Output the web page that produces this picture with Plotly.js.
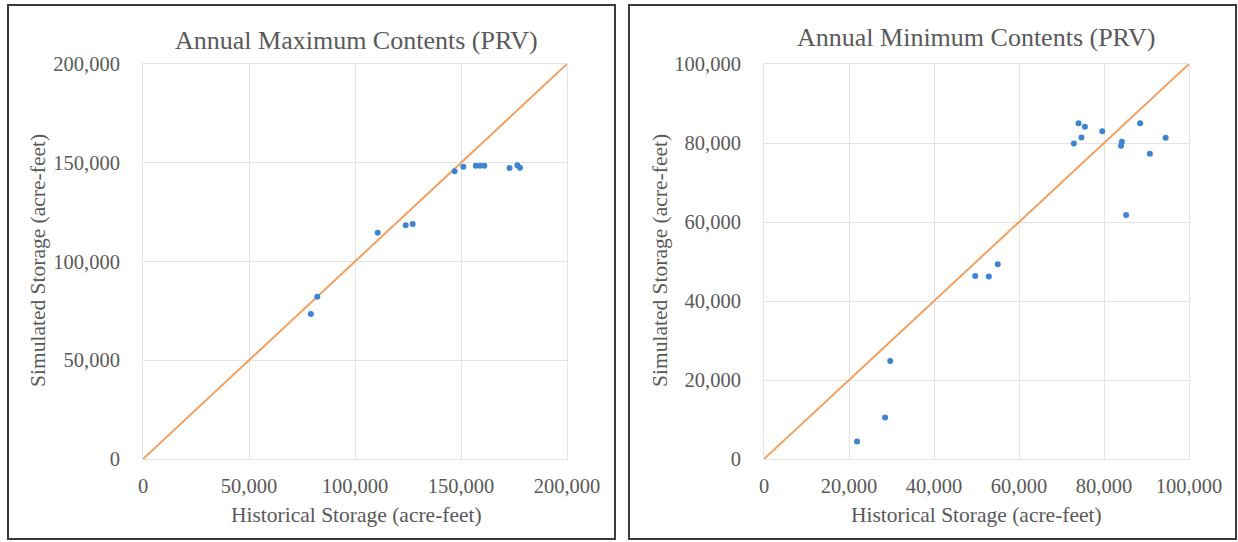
<!DOCTYPE html>
<html>
<head>
<meta charset="utf-8">
<script src="https://cdn.plot.ly/plotly-3.0.1.min.js"></script>
<style>html,body{margin:0;padding:0;background:#fff;}#chart{width:1238px;height:542px;}</style>
</head>
<body>
<div id="chart"></div>
<script>
// Annual maximum contents (PRV)
const maxHistorical = [79200, 82200, 110700, 123900, 127200, 147000, 151100, 157000, 159000, 161000, 172900, 176600, 177800];
const maxSimulated  = [73400, 82200, 114600, 118300, 119000, 145700, 148000, 148500, 148500, 148500, 147300, 148700, 147500];
const maxLine = [0, 200000];
const maxTicks = [0, 50000, 100000, 150000, 200000];

// Annual minimum contents (PRV)
const minHistorical = [21900, 28500, 29700, 49700, 52900, 55000, 72900, 74000, 74700, 75500, 79600, 84000, 84200, 85200, 88500, 90800, 94500];
const minSimulated  = [4400, 10500, 24800, 46300, 46200, 49300, 79900, 85000, 81400, 84100, 83000, 79300, 80300, 61800, 85000, 77300, 81300];
const minLine = [0, 100000];
const minTicks = [0, 20000, 40000, 60000, 80000, 100000];

const titles = ["Annual Maximum Contents (PRV)", "Annual Minimum Contents (PRV)"];
const xTitle = "Historical Storage (acre-feet)";
const yTitle = "Simulated Storage (acre-feet)";

const W = 1238, H = 542;
const px = v => v / W, py = v => 1 - v / H;
const textColor = '#595959';
const fontFam = '"Liberation Serif", "Times New Roman", serif';
const gridColor = '#e4e4e4';
const dotColor = '#3d85d1';
const lineColor = '#f2a05f';

const traces = [
  {x: maxLine, y: maxLine, mode: 'lines', line: {color: lineColor, width: 2}, xaxis: 'x', yaxis: 'y', hoverinfo: 'skip'},
  {x: maxHistorical, y: maxSimulated, mode: 'markers', marker: {color: dotColor, size: 6}, xaxis: 'x', yaxis: 'y'},
  {x: minLine, y: minLine, mode: 'lines', line: {color: lineColor, width: 2}, xaxis: 'x2', yaxis: 'y2', hoverinfo: 'skip'},
  {x: minHistorical, y: minSimulated, mode: 'markers', marker: {color: dotColor, size: 6}, xaxis: 'x2', yaxis: 'y2'}
];

function axis(domain, range, ticks, anchor, isY) {
  return {
    domain: domain, range: range, anchor: anchor,
    tickmode: 'array', tickvals: ticks, tickformat: ',d',
    showgrid: true, gridcolor: gridColor, gridwidth: 1,
    zeroline: false, showline: true, mirror: true, linecolor: gridColor, linewidth: 1,
    ticks: '', ticklabelstandoff: isY ? 18 : 8,
    tickfont: {family: fontFam, size: 20.5, color: textColor},
    fixedrange: true
  };
}

const yDom = [py(459), py(64)];
const layout = {
  width: W, height: H,
  margin: {l: 0, r: 0, t: 0, b: 0},
  paper_bgcolor: '#fff', plot_bgcolor: '#fff',
  showlegend: false,
  xaxis: axis([px(143), px(567)], [0, 200000], maxTicks, 'y', false),
  yaxis: axis(yDom, [0, 200000], maxTicks, 'x', true),
  xaxis2: axis([px(764), px(1189)], [0, 100000], minTicks, 'y2', false),
  yaxis2: axis(yDom, [0, 100000], minTicks, 'x2', true),
  shapes: [
    {type: 'rect', xref: 'paper', yref: 'paper', x0: px(8), x1: px(615), y0: py(539), y1: py(5), line: {color: '#3a3a3a', width: 2}},
    {type: 'rect', xref: 'paper', yref: 'paper', x0: px(629), x1: px(1236), y0: py(539), y1: py(5), line: {color: '#3a3a3a', width: 2}}
  ],
  annotations: [
    {text: titles[0], xref: 'paper', yref: 'paper', x: px(356), y: py(40), showarrow: false, xanchor: 'center', yanchor: 'middle', font: {family: fontFam, size: 26, color: textColor}},
    {text: titles[1], xref: 'paper', yref: 'paper', x: px(976), y: py(38), showarrow: false, xanchor: 'center', yanchor: 'middle', font: {family: fontFam, size: 26, color: textColor}},
    {text: xTitle, xref: 'paper', yref: 'paper', x: px(356), y: py(515), showarrow: false, xanchor: 'center', yanchor: 'middle', font: {family: fontFam, size: 21.5, color: textColor}},
    {text: xTitle, xref: 'paper', yref: 'paper', x: px(976), y: py(515), showarrow: false, xanchor: 'center', yanchor: 'middle', font: {family: fontFam, size: 21.5, color: textColor}},
    {text: yTitle, xref: 'paper', yref: 'paper', x: px(38), y: py(261), showarrow: false, textangle: -90, xanchor: 'center', yanchor: 'middle', font: {family: fontFam, size: 21.5, color: textColor}},
    {text: yTitle, xref: 'paper', yref: 'paper', x: px(660), y: py(261), showarrow: false, textangle: -90, xanchor: 'center', yanchor: 'middle', font: {family: fontFam, size: 21.5, color: textColor}}
  ]
};

Plotly.newPlot('chart', traces, layout, {displayModeBar: false, staticPlot: true});
</script>
</body>
</html>
